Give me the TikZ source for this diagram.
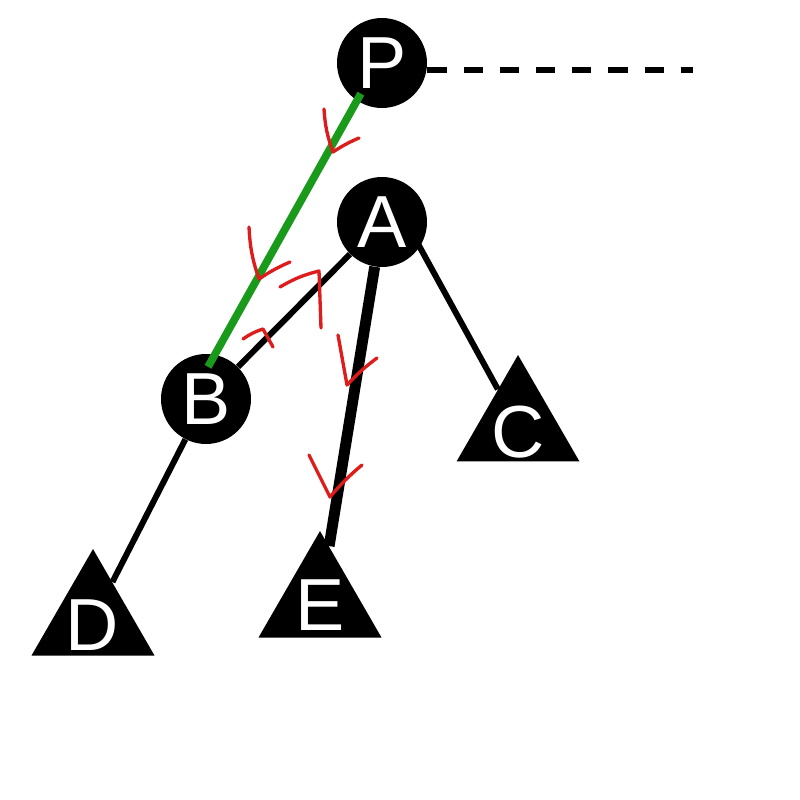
\documentclass[tikz,border=0pt]{standalone}
\usepackage{fontspec}
\setmainfont{Liberation Sans}
\usepackage{tikz}
\usetikzlibrary{shapes.geometric}
\usetikzlibrary{backgrounds}

\definecolor{pathgreen}{HTML}{1A9A1A}
\definecolor{markred}{HTML}{DD1C1C}

\begin{document}
\begin{tikzpicture}[x=0.02cm,y=-0.02cm]
	\useasboundingbox (0,0) rectangle (800,800);
	\begin{scope}[every node/.style={circle, fill=black, text=white, inner sep=0pt, minimum size=1.8cm, font=\fontsize{42}{42}\selectfont}]
		\node (P) at (382,63) {P};
		\node (A) at (382,222) {A};
		\node (B) at (206,399) {B};
	\end{scope}

	\begin{scope}[every node/.style={regular polygon, regular polygon sides=3, fill=black, text=white, inner sep=0pt, minimum size=2.84cm, font=\fontsize{42}{42}\selectfont}]
		\node (C) at (518,426) {};
		\node (D) at (93,620) {};
		\node (E) at (320,602) {};
	\end{scope}
	\begin{scope}[text=white, font=\fontsize{42}{42}\selectfont]
		\node at (518,432) {C};
		\node at (92,625) {D};
		\node at (320,605) {E};
	\end{scope}

	\coordinate (Pend) at (693,70);

	\begin{scope}[every edge/.style={draw=black, line width=3.4pt}]
		\path (A) edge (B);
		\path ([xshift=0.48cm]A.center) edge (C);
		\path (B) edge (D);
		\path (A) edge[line width=6.2pt] (E);
		\path (P.east |- Pend) edge[dash pattern=on 11pt off 9.6pt] (Pend);
		\path ([xshift=-0.08cm]P.center) edge[draw=pathgreen, line width=4.4pt, shorten <=20pt, shorten >=21pt] ([xshift=-0.32cm]B.center);
	\end{scope}

	% red direction marks
	\begin{scope}[draw=markred, line width=1.9pt, line cap=round, line join=round]
		\draw (324,109) to[bend right=8] (333,152) to[bend left=5] (359,138);
		\draw (249,227) to[bend right=8] (259,279) to[bend left=5] (290,262);
		\draw (280,287) to[bend left=8] (319,271) -- (321,328);
		\draw (243,339) to[bend left=8] (263,329) -- (273,347);
		\draw (338,335) -- (347,385) to[bend left=5] (377,358);
		\draw (309,455) -- (330,497) to[bend left=5] (362,465);
	\end{scope}
\end{tikzpicture}
\end{document}
